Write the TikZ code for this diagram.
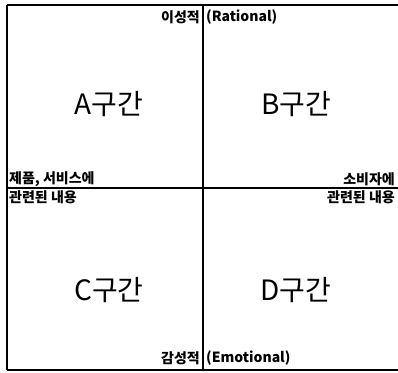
\documentclass[tikz,border=0pt]{standalone}
\usepackage{fontspec}
\setmainfont{Noto Sans CJK KR}
\begin{document}
\begin{tikzpicture}[x=1pt,y=-1pt,
  small/.style={font=\fontsize{14}{15}\selectfont\bfseries, inner sep=0pt},
  big/.style={font=\fontsize{28}{30}\selectfont, inner sep=0pt},
  frame/.style={line width=1.4pt}]
\useasboundingbox (0,0) rectangle (398,372);
\coordinate (tl) at (7,5);
\coordinate (tr) at (398,5);
\coordinate (bl) at (7,370);
\coordinate (br) at (398,370);
\coordinate (vt) at (203,5);
\coordinate (vb) at (203,370);
\coordinate (hl) at (7,188);
\coordinate (hr) at (398,188);
\draw[line width=2.4pt] (tl) -- (bl);
\draw[frame] (tl) -- (tr);
\draw[frame] (bl) -- (br);
\draw[frame] (vt) -- (vb);
\draw[frame] (hl) -- (hr);
\node[small, anchor=east] (r1) at (200,17) {이성적};
\node[small, anchor=west] (r2) at (206,17) {(Rational)};
\node[small, anchor=east] (e1) at (200,358) {감성적};
\node[small, anchor=west] (e2) at (206,358) {(Emotional)};
\node[small, anchor=west] (l1) at (9,179) {제품, 서비스에};
\node[small, anchor=west] (l2) at (9,197) {관련된 내용};
\node[small, anchor=east] (q1) at (395,179) {소비자에};
\node[small, anchor=east] (q2) at (395,197) {관련된 내용};
\node[big] (A) at (109,104) {A구간};
\node[big] (B) at (296,104) {B구간};
\node[big] (C) at (109,290) {C구간};
\node[big] (D) at (296,290) {D구간};
\end{tikzpicture}
\end{document}
